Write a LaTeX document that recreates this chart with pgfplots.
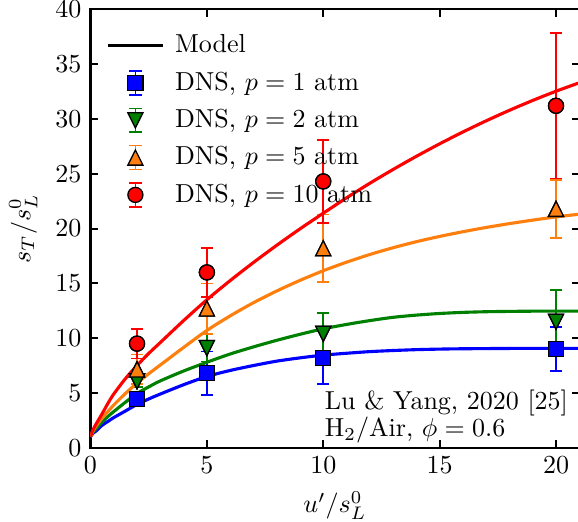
\documentclass[border=0pt]{standalone}
\usepackage{pgfplots}
\usepackage{pgfplotstable}
\pgfplotsset{compat=1.18}
\usetikzlibrary{calc}

\definecolor{mblue}{RGB}{0,0,255}
\definecolor{mgreen}{RGB}{0,128,0}
\definecolor{morange}{RGB}{255,127,14}
\definecolor{mred}{RGB}{255,0,0}

\pgfdeclareplotmark{tri}{%
  \pgfpathmoveto{\pgfqpoint{0pt}{\pgfplotmarksize}}%
  \pgfpathlineto{\pgfqpoint{-\pgfplotmarksize}{-\pgfplotmarksize}}%
  \pgfpathlineto{\pgfqpoint{\pgfplotmarksize}{-\pgfplotmarksize}}%
  \pgfpathclose
  \pgfusepathqfillstroke}
\pgfdeclareplotmark{tridown}{%
  \pgfpathmoveto{\pgfqpoint{0pt}{-\pgfplotmarksize}}%
  \pgfpathlineto{\pgfqpoint{-\pgfplotmarksize}{\pgfplotmarksize}}%
  \pgfpathlineto{\pgfqpoint{\pgfplotmarksize}{\pgfplotmarksize}}%
  \pgfpathclose
  \pgfusepathqfillstroke}

% DNS data: x, value, error
\pgfplotstableread{
x y e
2 4.45 0.4
5 6.8 2.0
10 8.2 2.4
20 9.0 2.0
}\dnsA
\pgfplotstableread{
x y e
2 6.05 0.5
5 9.1 1.25
10 10.4 1.9
20 11.5 2.9
}\dnsB
\pgfplotstableread{
x y e
2 7.15 1.35
5 12.7 2.3
10 18.2 3.1
20 21.8 2.65
}\dnsC
\pgfplotstableread{
x y e
2 9.5 1.35
5 16.0 2.25
10 24.3 3.8
20 31.2 6.65
}\dnsD

% Model curves
\pgfplotstableread{
x y
0 1.0
0.1 1.3
0.25 1.55
0.5 2.05
0.75 2.4
1 2.75
1.5 3.35
2 3.95
2.5 4.45
3 4.9
4 5.75
5 6.5
6 7.05
7 7.5
8 7.9
9 8.2
10 8.45
11 8.62
12 8.77
13 8.87
14 8.95
15 9.0
16 9.03
18 9.06
20 9.07
21 9.07
}\modA
\pgfplotstableread{
x y
0 1.0
0.1 1.4
0.25 1.75
0.5 2.35
0.75 2.85
1 3.3
1.5 4.15
2 4.95
2.5 5.55
3 6.1
4 7.0
5 7.8
6 8.55
7 9.2
8 9.8
9 10.35
10 10.85
11 11.25
12 11.6
13 11.9
14 12.1
15 12.25
16 12.35
17 12.41
18 12.44
19 12.46
20 12.46
21 12.46
}\modB
\pgfplotstableread{
x y
0 1.0
0.1 1.5
0.25 2.0
0.5 2.7
0.75 3.3
1 3.9
1.5 4.95
2 5.9
2.5 6.75
3 7.55
4 9.15
5 10.7
6 12.03
7 13.23
8 14.3
9 15.27
10 16.15
11 16.93
12 17.63
13 18.25
14 18.8
15 19.28
16 19.71
17 20.1
18 20.45
19 20.77
20 21.06
21 21.31
}\modC
\pgfplotstableread{
x y
0 1.0
0.1 1.6
0.25 2.2
0.5 3.1
0.75 4.05
1 4.9
1.5 6.3
2 7.5
2.5 8.6
3 9.6
4 11.6
5 13.5
6 15.25
7 16.9
8 18.47
9 19.97
10 21.4
11 22.8
12 24.13
13 25.39
14 26.59
15 27.73
16 28.81
17 29.83
18 30.79
19 31.69
20 32.53
21 33.3
}\modD

\pgfplotsset{
  dnsbar/.style={
    forget plot, only marks, mark size=2.9pt,
    mark options={draw=black, fill=#1, line width=0.5pt, solid},
    error bars/.cd, y dir=both, y explicit,
    error mark=|,
    error bar style={#1, line width=0.6pt, solid},
    error mark options={#1, line width=0.6pt, mark size=2.4pt, solid},
    /pgfplots/.cd
  },
  dnsmark/.style={
    forget plot, only marks, mark size=2.9pt,
    mark options={draw=black, fill=#1, line width=0.5pt, solid}
  },
}

\begin{document}
\begin{tikzpicture}
\begin{axis}[
  name=ax,
  scale only axis,
  width=188pt, height=168.6pt,
  xmin=0, xmax=21, ymin=0, ymax=40,
  xtick={0,5,10,15,20}, ytick={0,5,...,40},
  tick align=inside,
  major tick length=2.8pt,
  axis line style={line width=0.8pt},
  every tick/.style={black, line width=0.8pt},
  xlabel={$u'/s_L^0$}, ylabel={$s_T/s_L^0$},
  legend cell align=left,
  legend style={draw=none, fill=none, at={(0,1)}, anchor=north west,
    xshift=5.8pt, yshift=-6.7pt, inner sep=0pt,
    nodes={inner sep=2.9pt}},
]
% legend entries
\addlegendimage{legend image code/.code={\draw[black, line width=1.2pt] (0cm,0cm) -- (0.75cm,0cm); \path (0.75cm+1.5pt,0cm);}}
\addlegendentry{Model}
\addlegendimage{legend image code/.code={%
  \draw[mblue, line width=0.6pt] (0.375cm,-4.6pt) -- (0.375cm,4.6pt)
     (0.375cm-2.4pt,-4.6pt) -- (0.375cm+2.4pt,-4.6pt)
     (0.375cm-2.4pt,4.6pt) -- (0.375cm+2.4pt,4.6pt);
  \draw[black, fill=mblue, line width=0.5pt, mark=square*, mark size=2.9pt] plot coordinates {(0.375cm,0cm)};
  \path (0cm,0cm) (0.75cm+1.5pt,0cm);}}
\addlegendentry{DNS, $p=1$ atm}
\addlegendimage{legend image code/.code={%
  \draw[mgreen, line width=0.6pt] (0.375cm,-4.6pt) -- (0.375cm,4.6pt)
     (0.375cm-2.4pt,-4.6pt) -- (0.375cm+2.4pt,-4.6pt)
     (0.375cm-2.4pt,4.6pt) -- (0.375cm+2.4pt,4.6pt);
  \draw[black, fill=mgreen, line width=0.5pt, mark=tridown, mark size=2.9pt] plot coordinates {(0.375cm,0cm)};
  \path (0cm,0cm) (0.75cm+1.5pt,0cm);}}
\addlegendentry{DNS, $p=2$ atm}
\addlegendimage{legend image code/.code={%
  \draw[morange, line width=0.6pt] (0.375cm,-4.6pt) -- (0.375cm,4.6pt)
     (0.375cm-2.4pt,-4.6pt) -- (0.375cm+2.4pt,-4.6pt)
     (0.375cm-2.4pt,4.6pt) -- (0.375cm+2.4pt,4.6pt);
  \draw[black, fill=morange, line width=0.5pt, mark=tri, mark size=2.9pt] plot coordinates {(0.375cm,0cm)};
  \path (0cm,0cm) (0.75cm+1.5pt,0cm);}}
\addlegendentry{DNS, $p=5$ atm}
\addlegendimage{legend image code/.code={%
  \draw[mred, line width=0.6pt] (0.375cm,-4.6pt) -- (0.375cm,4.6pt)
     (0.375cm-2.4pt,-4.6pt) -- (0.375cm+2.4pt,-4.6pt)
     (0.375cm-2.4pt,4.6pt) -- (0.375cm+2.4pt,4.6pt);
  \draw[black, fill=mred, line width=0.5pt, mark=*, mark size=2.9pt] plot coordinates {(0.375cm,0cm)};
  \path (0cm,0cm) (0.75cm+1.5pt,0cm);}}
\addlegendentry{DNS, $p=10$ atm}

% error bars
\addplot[mblue, mark=square*, dnsbar=mblue] table[x=x, y=y, y error=e] {\dnsA};
\addplot[mgreen, mark=tridown, dnsbar=mgreen] table[x=x, y=y, y error=e] {\dnsB};
\addplot[morange, mark=tri, dnsbar=morange] table[x=x, y=y, y error=e] {\dnsC};
\addplot[mred, mark=*, dnsbar=mred] table[x=x, y=y, y error=e] {\dnsD};

% model curves
\addplot[forget plot, mblue, line width=1.2pt, smooth, no marks] table[x=x, y=y] {\modA};
\addplot[forget plot, mgreen, line width=1.2pt, smooth, no marks] table[x=x, y=y] {\modB};
\addplot[forget plot, morange, line width=1.2pt, smooth, no marks] table[x=x, y=y] {\modC};
\addplot[forget plot, mred, line width=1.2pt, smooth, no marks] table[x=x, y=y] {\modD};

% markers on top
\addplot[dnsmark=mblue, mark=square*] table[x=x, y=y] {\dnsA};
\addplot[dnsmark=mgreen, mark=tridown] table[x=x, y=y] {\dnsB};
\addplot[dnsmark=morange, mark=tri] table[x=x, y=y] {\dnsC};
\addplot[dnsmark=mred, mark=*] table[x=x, y=y] {\dnsD};

\node[anchor=base west, inner sep=0pt] at (axis cs:10.05,3.5) {Lu \& Yang, 2020 [25]};
\node[anchor=base west, inner sep=0pt] at (axis cs:10.05,1.0) {H$_2$/Air, $\phi=0.6$};
\end{axis}
\pgfresetboundingbox
\path ($(ax.south west)+(-34.8pt,-28.2pt)$) rectangle ($(ax.south west)+(187.5pt,172.2pt)$);
\end{tikzpicture}
\end{document}
